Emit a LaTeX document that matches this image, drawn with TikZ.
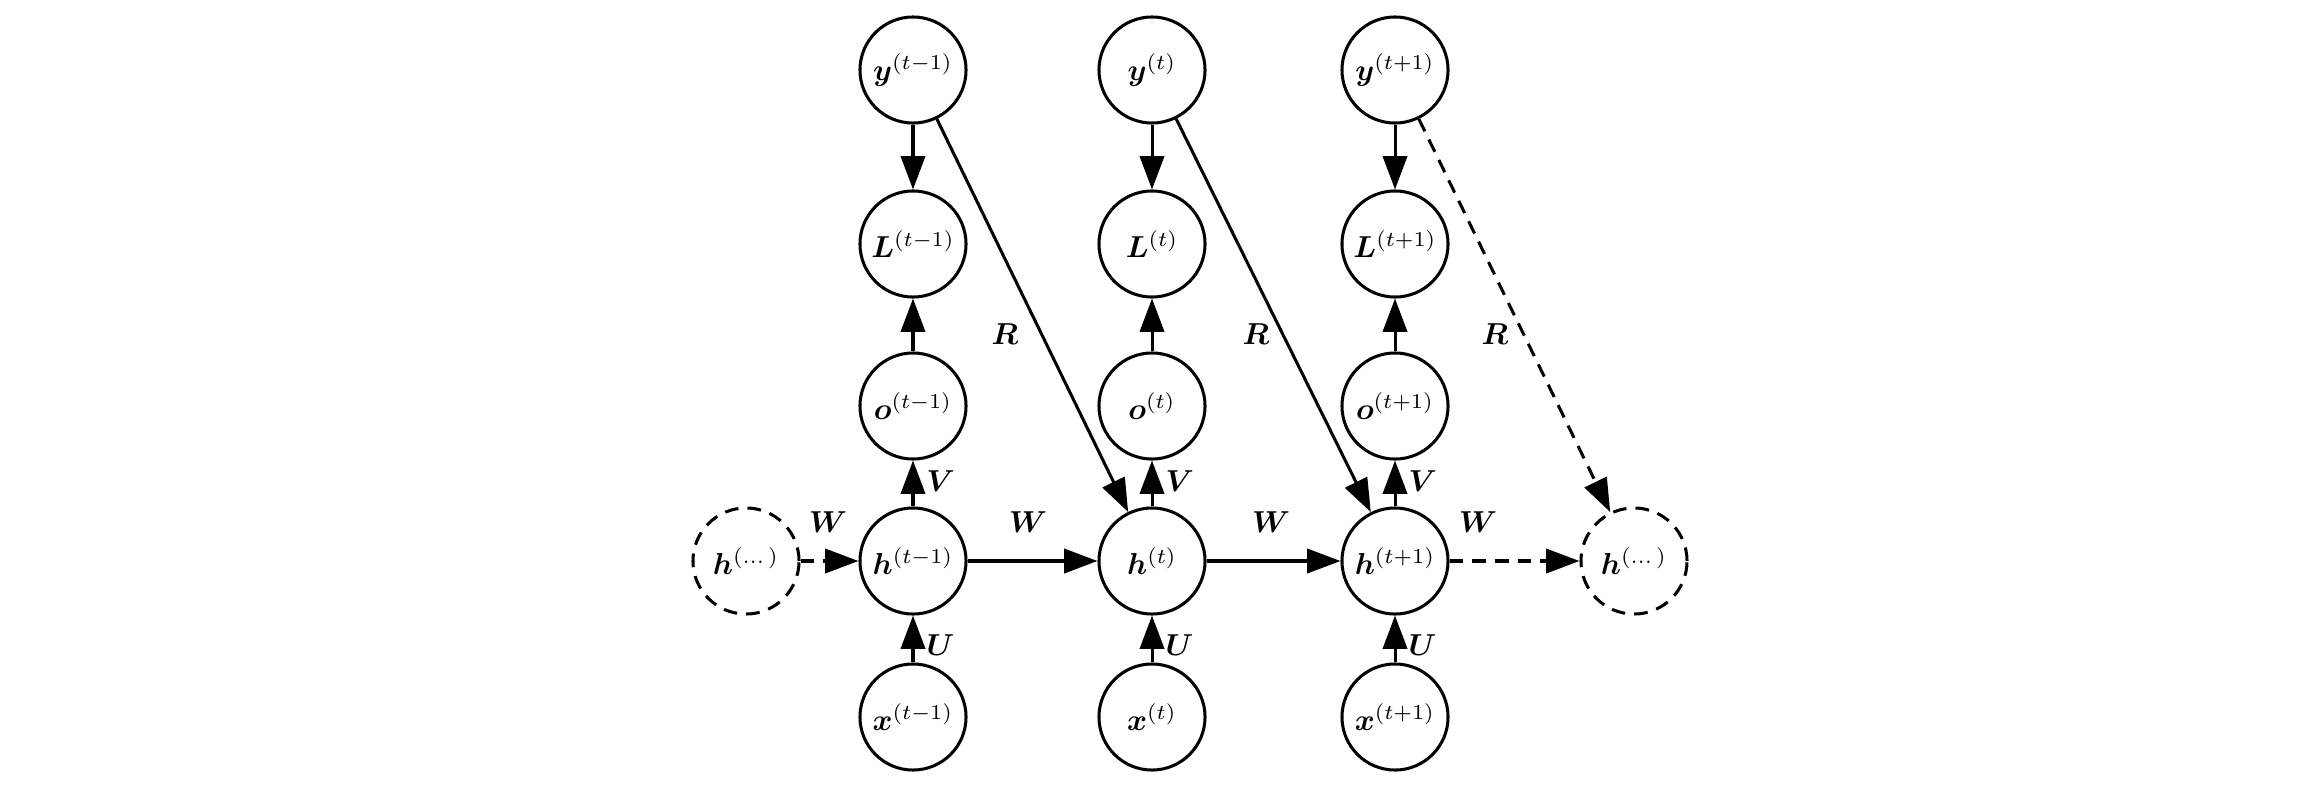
\documentclass[tikz,border=0pt]{standalone}
\usepackage{amsmath,bm}
\usetikzlibrary{arrows.meta}
\begin{document}
\begin{tikzpicture}[x=0.33pt,y=0.33pt,
  unit/.style={circle,draw,line width=1pt,minimum size=35pt,inner sep=0pt},
  dunit/.style={unit,dash pattern=on 4.5pt off 3pt},
  arr/.style={line width=1pt,-{Triangle[length=11pt,width=8pt]}},
  darr/.style={arr,dash pattern=on 4.5pt off 3pt},
  lab/.style={inner sep=0pt}]
\useasboundingbox (0,0) rectangle (2298,792);
% columns
\node[unit] (y1) at (913,722) {$\bm{y}^{(t-1)}$};
\node[unit] (y2) at (1152,722) {$\bm{y}^{(t)}$};
\node[unit] (y3) at (1395,722) {$\bm{y}^{(t+1)}$};
\node[unit] (L1) at (913,548) {$\bm{L}^{(t-1)}$};
\node[unit] (L2) at (1152,548) {$\bm{L}^{(t)}$};
\node[unit] (L3) at (1395,548) {$\bm{L}^{(t+1)}$};
\node[unit] (o1) at (913,386) {$\bm{o}^{(t-1)}$};
\node[unit] (o2) at (1152,386) {$\bm{o}^{(t)}$};
\node[unit] (o3) at (1395,386) {$\bm{o}^{(t+1)}$};
\node[unit] (h1) at (913,231) {$\bm{h}^{(t-1)}$};
\node[unit] (h2) at (1152,231) {$\bm{h}^{(t)}$};
\node[unit] (h3) at (1395,231) {$\bm{h}^{(t+1)}$};
\node[unit] (x1) at (913,75) {$\bm{x}^{(t-1)}$};
\node[unit] (x2) at (1152,75) {$\bm{x}^{(t)}$};
\node[unit] (x3) at (1395,75) {$\bm{x}^{(t+1)}$};
\node[dunit] (hl) at (746,231) {$\bm{h}^{(\dots)}$};
\node[dunit] (hr) at (1634,231) {$\bm{h}^{(\dots)}$};
% vertical arrows
\foreach \i in {1,2,3}{
  \draw[arr] (y\i) -- (L\i);
  \draw[arr] (o\i) -- (L\i);
  \draw[arr] (h\i) -- node[pos=0.55,right=4pt,lab] {$\bm{V}$} (o\i);
  \draw[arr] (x\i) -- node[pos=0.38,right=4pt,lab] {$\bm{U}$} (h\i);
}
% horizontal
\draw[darr] (hl) -- (h1);
\draw[arr] (h1) -- (h2);
\draw[arr] (h2) -- (h3);
\draw[darr] (h3) -- (hr);
\node[lab] (w0) at (828,270) {$\bm{W}$};
\node[lab] (w1) at (1028,270) {$\bm{W}$};
\node[lab] (w2) at (1271,270) {$\bm{W}$};
\node[lab] (w3) at (1478,270) {$\bm{W}$};
% output recurrence
\draw[arr] (y1) -- (h2);
\draw[arr] (y2) -- (h3);
\draw[darr] (y3) -- (hr);
\node[lab] (r1) at (1005,458) {$\bm{R}$};
\node[lab] (r2) at (1256,458) {$\bm{R}$};
\node[lab] (r3) at (1495,458) {$\bm{R}$};
\end{tikzpicture}
\end{document}
